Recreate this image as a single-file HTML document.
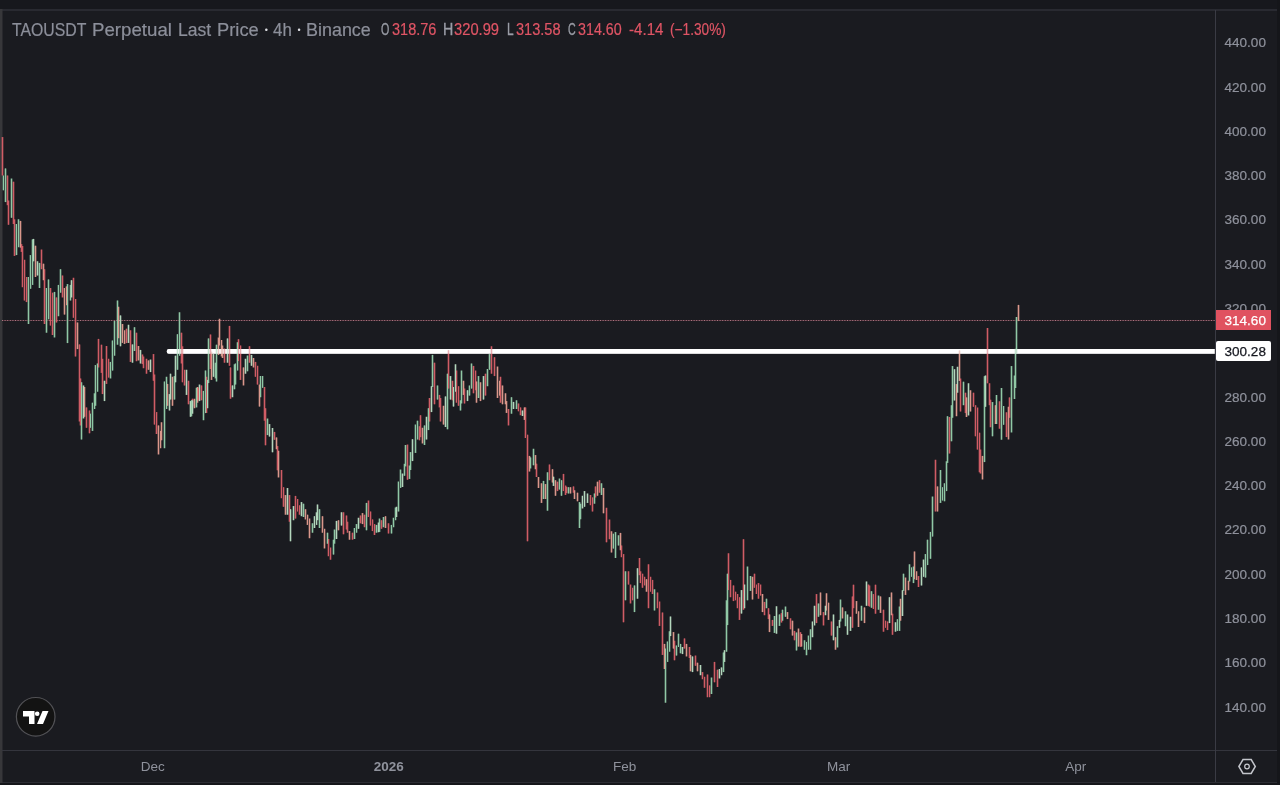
<!DOCTYPE html>
<html><head><meta charset="utf-8">
<style>
html,body{margin:0;padding:0;background:#1a1b20;}
body{width:1280px;height:785px;position:relative;overflow:hidden;font-family:"Liberation Sans",sans-serif;}
#frame{position:absolute;left:0;top:0;width:1280px;height:785px;}
.lbl{position:absolute;color:#8f929c;font-size:13.5px;line-height:16px;white-space:nowrap;}
.pl{left:1224.6px;margin-top:0.9px;-webkit-text-stroke:0.2px}
.box{left:1216px;margin-top:0;-webkit-text-stroke:0.25px;width:55px;height:20px;line-height:21px;box-sizing:border-box;padding-left:8.6px;z-index:2}
.tl{top:759.2px;margin-left:0.7px;transform:translateX(-50%);}
#hdr,#ohlc{position:absolute;left:0;top:0;white-space:nowrap;}
.hw,.hd{-webkit-text-stroke:0.2px #8c8f9a;position:absolute;top:19.9px;margin-left:-0.8px;font-size:17.5px;line-height:20px;color:#8c8f9a;transform-origin:0 0;white-space:nowrap;}
.hd{-webkit-text-stroke:0;margin-left:0;color:#dcdde2;transform:none;font-size:9px;top:20.4px;}
.ow{position:absolute;top:21.0px;font-size:15.6px;line-height:18px;transform-origin:0 0;white-space:nowrap;}
.ow.g{color:#9a9da6;-webkit-text-stroke:0.35px #9a9da6}.ow.r{color:#e05565;-webkit-text-stroke:0.2px #e05565}
</style></head><body>
<svg id="frame" width="1280" height="785" viewBox="0 0 1280 785">
<rect x="0" y="0" width="1280" height="785" fill="#1a1b20"/>
<rect x="0" y="0" width="1280" height="9" fill="#17181d"/>
<rect x="1277" y="0" width="3" height="785" fill="#15161a"/>
<rect x="0" y="783" width="1280" height="2" fill="#15161a"/>
<rect x="0" y="9" width="1277" height="2" fill="#292a31"/>
<rect x="0" y="782" width="1277" height="1" fill="#2b2c33"/>
<rect x="0" y="9" width="2.5" height="774" fill="#37373a"/>
<rect x="2" y="750" width="1275" height="1" fill="#34353d"/>
<rect x="1215" y="10" width="1" height="772" fill="#3a3b44"/>
<!-- price line -->
<line x1="2" y1="320.5" x2="1215" y2="320.5" stroke="#5a2f3c" stroke-width="1" opacity="0.8"/>
<line x1="2" y1="320.5" x2="1215" y2="320.5" stroke="#cf9aa3" stroke-width="1" stroke-dasharray="1 1.6" opacity="0.7"/>
<!-- white level -->
<rect x="166.8" y="348.9" width="1051" height="4.85" rx="2" fill="#ffffff"/>
<g id="candles"><path d="M2.5 137.1V175.5M7.5 175.5V205.2M8.5 200.5V224.8M13.5 181.7V224.0M14.5 219.3V255.9M21.5 244.1V251.9M22.5 246.0V287.2M24.5 259.8V300.5M26.5 277.0V302.1M41.5 249.6V269.2M44.5 269.2V324.0M50.5 288.0V325.6M52.5 292.7V335.0M56.5 297.4V322.5M62.5 275.5V297.4M73.5 277.8V317.8M75.5 299.0V356.5M79.5 344.4V421.5M80.5 378.4V425.4M86.5 407.4V427.8M89.5 410.5V433.3M98.5 338.9V367.4M101.5 344.7V372.9M102.5 358.8V394.1M106.5 346.0V383.9M108.5 358.8V377.6M126.5 328.7V343.1M130.5 330.3V361.9M136.5 332.7V361.2M142.5 354.5V364.1M143.5 356.5V368.2M146.5 358.8V373.7M153.5 354.1V380.8M154.5 374.5V424.6M156.5 412.1V434.0M181.5 332.7V363.5M182.5 346.3V382.3M184.5 369.8V385.5M188.5 380.8V404.3M192.5 398.7V406.6M198.5 387.8V400.3M201.5 385.4V400.3M206.5 376.8V412.9M210.5 334.5V369.0M224.5 348.6V362.7M229.5 325.9V365.8M230.5 367.4V398.7M238.5 339.2V361.1M240.5 345.5V379.9M249.5 346.2V362.7M255.5 361.9V376.8M257.5 365.8V384.6M264.5 387.0V420.7M265.5 408.2V445.3M274.5 431.9V439.8M277.5 446.1V470.3M281.5 470.0V498.2M283.5 487.2V506.8M289.5 495.1V521.7M295.5 495.9V518.6M297.5 499.0V511.5M299.5 505.3V514.7M328.5 539.0V556.2M330.5 547.6V559.7M343.5 512.3V534.3M346.5 515.5V529.6M347.5 521.7V532.7M352.5 532.7V539.7M360.5 515.5V523.3M364.5 514.7V527.2M368.5 500.6V517.0M370.5 511.5V525.6M372.5 519.4V531.1M374.5 524.1V535.0M381.5 520.2V528.8M388.5 523.3V533.5M407.5 444.6V479.8M419.5 426.2V440.3M420.5 415.2V437.2M429.5 398.0V421.5M434.5 362.7V404.3M439.5 394.9V407.4M440.5 398.0V421.5M448.5 350.2V388.6M452.5 380.8V400.3M456.5 370.6V402.7M458.5 386.2V405.8M464.5 388.6V403.5M473.5 365.9V393.3M475.5 370.6V390.2M485.5 373.7V395.6M491.5 346.3V373.7M494.5 357.2V376.1M500.5 376.8V402.7M508.5 409.0V425.4M518.5 403.5V411.3M520.5 407.4V415.2M525.5 407.4V438.0M527.5 434.7V541.3M536.5 463.7V477.0M549.5 464.5V480.2M557.5 481.7V491.1M563.5 473.9V491.1M565.5 485.6V495.0M566.5 486.7V493.2M573.5 486.4V492.7M590.5 495.0V505.2M592.5 497.4V511.5M595.5 486.4V497.4M599.5 480.2V492.7M606.5 507.8V542.3M609.5 519.6V539.2M621.5 545.5V557.2M623.5 554.1V622.3M628.5 571.3V584.6M630.5 584.6V603.4M632.5 587.8V600.3M639.5 558.0V575.2M640.5 571.3V583.1M642.5 573.7V587.8M644.5 576.8V585.4M648.5 564.3V608.2M650.5 576.8V591.7M652.5 579.9V594.0M657.5 592.5V608.2M659.5 601.6V625.9M662.5 612.5V654.9M674.5 640.8V660.3M684.5 638.4V648.6M689.5 647.0V658.0M695.5 655.6V665.8M702.5 672.1V679.2M704.5 676.8V687.8M707.5 674.5V697.2M709.5 685.4V697.2M714.5 661.9V682.3M717.5 669.7V687.0M728.5 553.3V590.1M730.5 579.9V597.2M733.5 585.4V601.1M735.5 591.7V600.3M737.5 594.0V608.2M739.5 597.2V619.9M743.5 539.2V609.7M754.5 573.7V587.8M756.5 584.6V594.0M758.5 583.1V598.7M760.5 584.6V595.6M764.5 601.9V615.2M768.5 608.2V619.1M772.5 619.9V625.9M781.5 613.1V622.5M790.5 618.3V629.3M794.5 630.9V640.3M800.5 632.2V646.8M816.5 594.1V623.1M823.5 612.1V625.4M831.5 621.5V635.6M852.5 596.4V627.8M853.5 584.7V608.2M868.5 584.6V605.9M869.5 585.5V606.6M873.5 594.1V609.0M875.5 584.7V613.7M883.5 609.7V631.7M885.5 620.7V627.8M887.5 621.5V630.1M892.5 613.7V634.8M918.5 576.1V587.0M935.5 459.8V511.5M949.5 417.0V453.5M960.5 378.6V411.5M965.5 392.7V413.1M973.5 392.7V406.8M975.5 405.2V436.3M977.5 407.6V449.6M979.5 432.7V472.3M980.5 449.5V473.5M987.5 328.0V383.3M989.5 383.3V405.2M990.5 399.7V427.2M999.5 401.3V428.7M1006.5 412.3V437.1M1009.5 397.4V417.8" stroke="#d05c65" stroke-width="3" opacity="0.3" fill="none"/>
<path d="M20.5 220.9V247.6M35.5 245.7V277.0M43.5 263.7V280.2M64.5 288.0V314.6M66.5 286.4V305.2M77.5 322.5V349.1M84.5 387.0V416.8M118.5 306.8V338.2M122.5 324.0V342.9M124.5 330.3V343.9M138.5 346.0V360.4M148.5 360.4V369.8M158.5 425.4V454.4M160.5 430.9V448.2M161.5 422.3V440.3M167.5 383.9V405.8M172.5 376.8V405.8M194.5 398.8V407.4M194.5 400.3V408.2M197.5 387.0V402.7M211.5 351.7V379.9M218.5 337.6V354.9M219.5 318.8V345.5M221.5 340.0V356.4M222.5 345.5V358.0M243.5 367.4V385.4M253.5 358.0V367.4M259.5 384.6V406.6M276.5 437.4V449.2M278.5 450.8V477.4M285.5 495.1V514.7M305.5 509.2V519.4M307.5 514.7V524.9M309.5 518.6V538.2M322.5 516.2V532.7M324.5 528.8V548.4M338.5 520.2V530.3M349.5 531.1V539.7M362.5 513.1V524.1M385.5 516.2V528.0M422.5 427.8V443.4M443.5 405.8V424.6M463.5 380.8V394.9M476.5 381.5V402.7M480.5 382.3V401.1M497.5 366.6V398.0M499.5 380.8V395.6M502.5 385.5V404.3M505.5 393.3V404.3M506.5 401.1V412.9M524.5 407.4V419.9M529.5 455.9V471.5M535.5 455.1V469.2M538.5 477.0V488.0M541.5 483.3V502.9M545.5 484.1V499.0M552.5 469.2V482.5M555.5 480.2V495.8M570.5 487.2V493.5M574.5 490.3V499.0M577.5 492.7V501.3M597.5 481.7V495.8M603.5 487.9V513.3M611.5 531.3V552.5M620.5 532.9V550.2M646.5 579.2V591.7M664.5 643.9V669.0M673.5 632.1V648.6M686.5 643.9V656.4M690.5 654.9V671.3M697.5 662.7V671.3M752.5 576.8V599.5M762.5 594.0V612.1M769.5 614.4V632.1M787.5 612.1V619.1M792.5 620.7V635.6M798.5 628.6V646.6M801.5 634.0V646.6M820.5 592.5V615.2M826.5 593.3V610.5M828.5 602.7V619.9M835.5 637.2V649.7M842.5 607.4V618.4M856.5 601.1V613.7M858.5 611.3V627.0M864.5 607.4V623.1M880.5 596.4V612.9M891.5 592.5V615.2M900.5 598.8V620.7M905.5 577.6V594.9M908.5 580.8V590.2M914.5 551.5V579.2M916.5 571.3V580.0M937.5 486.4V511.5M956.5 384.1V416.2M959.5 350.4V380.9M966.5 397.4V417.0M970.5 390.3V411.5M982.5 455.9V479.4M995.5 405.2V424.0M1008.5 406.8V439.4M1018.5 304.9V321.1" stroke="#da978b" stroke-width="3" opacity="0.3" fill="none"/>
<path d="M3.5 175.5V190.3M5.5 168.4V202.1M11.5 178.6V217.8M16.5 224.0V255.1M18.5 219.3V247.2M28.5 277.0V324.0M30.5 255.1V288.8M32.5 239.4V284.9M39.5 262.9V288.0M46.5 288.0V332.7M48.5 279.4V319.3M54.5 291.9V337.4M58.5 284.9V316.2M60.5 269.2V292.7M67.5 284.1V343.1M70.5 284.9V300.5M81.5 382.3V439.5M90.5 413.7V427.8M92.5 402.7V430.9M94.5 393.3V409.0M95.5 365.1V405.8M97.5 363.5V391.7M110.5 361.9V378.4M112.5 340.5V370.6M114.5 320.9V355.7M117.5 300.5V344.7M134.5 327.2V351.0M164.5 431.7V448.2M164.5 381.5V440.3M166.5 376.8V409.0M174.5 376.1V399.6M177.5 334.2V369.8M179.5 312.3V355.7M191.5 400.3V416.3M196.5 396.4V407.4M196.5 387.8V403.4M203.5 390.9V420.2M205.5 370.5V413.1M208.5 338.4V383.1M215.5 362.7V378.4M216.5 344.7V381.5M234.5 364.3V389.3M235.5 363.5V384.6M237.5 342.3V370.5M247.5 355.6V371.3M260.5 376.0V397.2M262.5 376.0V387.8M267.5 418.6V435.1M303.5 503.7V517.0M312.5 523.3V532.7M319.5 509.2V528.0M327.5 532.7V543.7M333.5 539.7V554.6M334.5 529.6V543.7M354.5 528.0V539.0M356.5 524.1V532.7M366.5 502.9V530.3M376.5 524.9V532.7M379.5 518.6V531.9M383.5 517.0V527.2M391.5 524.9V533.5M393.5 517.8V527.2M395.5 507.6V520.2M398.5 481.6V511.5M400.5 469.6V487.9M404.5 463.8V475.8M405.5 445.0V466.4M409.5 465.5V478.9M410.5 452.1V470.0M415.5 424.6V452.9M417.5 420.7V439.5M424.5 425.4V445.0M428.5 408.2V430.1M432.5 354.9V387.0M437.5 385.5V399.6M447.5 373.7V429.3M460.5 400.3V410.5M461.5 370.6V403.5M469.5 385.5V395.6M471.5 363.5V388.6M478.5 376.1V398.0M487.5 369.0V386.2M489.5 354.1V369.8M511.5 397.2V413.7M516.5 400.3V409.0M530.5 457.4V468.4M533.5 448.8V465.3M543.5 480.9V499.0M547.5 472.3V510.7M559.5 478.6V489.6M561.5 480.2V495.8M568.5 487.2V493.5M579.5 502.1V528.0M580.5 503.7V519.3M594.5 493.5V503.7M601.5 483.3V495.0M613.5 533.7V548.6M615.5 532.1V558.0M618.5 535.3V545.5M625.5 571.3V600.3M634.5 585.4V612.1M654.5 589.3V610.5M665.5 648.6V702.7M667.5 641.5V661.9M669.5 631.3V651.7M676.5 645.5V655.6M678.5 633.7V647.0M680.5 643.9V653.3M711.5 677.6V694.0M723.5 652.5V672.1M726.5 600.3V651.7M727.5 573.7V625.1M747.5 566.6V600.3M750.5 576.0V590.9M766.5 598.7V608.2M774.5 616.0V632.9M779.5 614.4V625.9M782.5 609.7V620.7M785.5 606.6V616.8M796.5 632.5V650.5M804.5 640.3V649.7M806.5 641.9V655.2M808.5 635.6V649.7M810.5 629.3V649.7M818.5 603.5V616.8M837.5 626.2V647.4M840.5 599.6V621.5M845.5 611.3V626.2M861.5 605.8V620.7M871.5 591.2V607.8M878.5 595.6V609.7M897.5 619.2V630.9M899.5 606.6V630.9M903.5 573.7V590.9M909.5 564.3V581.5M911.5 567.4V576.8M913.5 566.6V583.1M925.5 554.1V577.6M927.5 539.7V565.1M930.5 531.9V558.8M932.5 496.6V536.6M940.5 470.0V502.9M942.5 487.2V500.5M944.5 483.3V501.3M946.5 461.3V491.1M947.5 416.2V462.9M951.5 405.2V441.3M952.5 366.1V417.8M963.5 381.7V405.2M984.5 376.2V462.1M992.5 402.1V436.3M996.5 395.0V424.0M1001.5 388.0V439.7M1003.5 406.0V424.8M1011.5 366.1V432.4M1014.5 375.5V399.0M1015.5 348.8V388.0M1016.5 317.0V353.5" stroke="#90c8a5" stroke-width="3" opacity="0.3" fill="none"/>
<path d="M33.5 238.9V261.3M37.5 261.3V275.5M71.5 280.2V297.4M83.5 385.5V418.4M104.5 380.8V401.1M120.5 315.4V346.3M128.5 324.8V342.9M132.5 344.4V362.7M140.5 349.9V363.5M150.5 359.6V372.1M169.5 394.1V410.5M170.5 373.7V399.6M175.5 355.7V382.3M186.5 369.8V394.9M190.5 401.1V416.8M192.5 400.3V413.7M199.5 385.5V401.1M199.5 384.6V397.2M207.5 379.9V408.2M213.5 354.1V376.8M227.5 338.4V362.7M232.5 385.4V397.2M245.5 358.8V373.7M251.5 354.9V365.8M269.5 424.1V436.6M272.5 428.0V452.3M287.5 488.0V514.7M290.5 509.2V541.3M293.5 506.1V520.2M301.5 502.1V516.2M314.5 516.2V528.0M316.5 512.3V524.9M317.5 504.5V520.2M336.5 520.9V539.0M341.5 512.3V525.6M358.5 517.8V528.8M378.5 522.6V532.2M396.5 506.8V517.0M402.5 473.6V487.0M412.5 439.2V461.1M426.5 416.8V439.5M431.5 386.2V412.1M445.5 396.4V427.0M450.5 376.1V399.6M453.5 387.0V406.6M455.5 364.3V391.7M467.5 390.2V401.1M483.5 376.1V399.6M513.5 401.9V409.0M522.5 410.5V416.0M553.5 476.7V485.9M582.5 495.8V508.4M584.5 491.1V506.8M587.5 493.5V502.9M637.5 568.2V598.7M670.5 616.5V636.1M682.5 647.0V654.1M692.5 656.4V672.1M700.5 665.0V675.2M719.5 669.0V678.4M721.5 667.4V675.2M724.5 650.2V661.9M741.5 590.1V613.6M744.5 584.6V608.2M776.5 606.3V633.7M812.5 621.5V637.2M814.5 605.8V625.4M825.5 605.8V615.2M833.5 614.5V640.3M839.5 619.9V627.8M847.5 614.5V634.8M850.5 616.8V630.9M866.5 581.5V605.8M889.5 597.2V623.1M895.5 622.3V631.7M902.5 590.2V616.0M921.5 567.4V585.5M923.5 559.6V576.8M954.5 369.2V400.5M957.5 366.8V392.7M968.5 383.3V415.4M985.5 375.5V406.8" stroke="#b4d7bd" stroke-width="3" opacity="0.3" fill="none"/>
<path d="M2.5 137.1V175.5M7.5 175.5V205.2M8.5 200.5V224.8M13.5 181.7V224.0M14.5 219.3V255.9M21.5 244.1V251.9M22.5 246.0V287.2M24.5 259.8V300.5M26.5 277.0V302.1M41.5 249.6V269.2M44.5 269.2V324.0M50.5 288.0V325.6M52.5 292.7V335.0M56.5 297.4V322.5M62.5 275.5V297.4M73.5 277.8V317.8M75.5 299.0V356.5M79.5 344.4V421.5M80.5 378.4V425.4M86.5 407.4V427.8M89.5 410.5V433.3M98.5 338.9V367.4M101.5 344.7V372.9M102.5 358.8V394.1M106.5 346.0V383.9M108.5 358.8V377.6M126.5 328.7V343.1M130.5 330.3V361.9M136.5 332.7V361.2M142.5 354.5V364.1M143.5 356.5V368.2M146.5 358.8V373.7M153.5 354.1V380.8M154.5 374.5V424.6M156.5 412.1V434.0M181.5 332.7V363.5M182.5 346.3V382.3M184.5 369.8V385.5M188.5 380.8V404.3M192.5 398.7V406.6M198.5 387.8V400.3M201.5 385.4V400.3M206.5 376.8V412.9M210.5 334.5V369.0M224.5 348.6V362.7M229.5 325.9V365.8M230.5 367.4V398.7M238.5 339.2V361.1M240.5 345.5V379.9M249.5 346.2V362.7M255.5 361.9V376.8M257.5 365.8V384.6M264.5 387.0V420.7M265.5 408.2V445.3M274.5 431.9V439.8M277.5 446.1V470.3M281.5 470.0V498.2M283.5 487.2V506.8M289.5 495.1V521.7M295.5 495.9V518.6M297.5 499.0V511.5M299.5 505.3V514.7M328.5 539.0V556.2M330.5 547.6V559.7M343.5 512.3V534.3M346.5 515.5V529.6M347.5 521.7V532.7M352.5 532.7V539.7M360.5 515.5V523.3M364.5 514.7V527.2M368.5 500.6V517.0M370.5 511.5V525.6M372.5 519.4V531.1M374.5 524.1V535.0M381.5 520.2V528.8M388.5 523.3V533.5M407.5 444.6V479.8M419.5 426.2V440.3M420.5 415.2V437.2M429.5 398.0V421.5M434.5 362.7V404.3M439.5 394.9V407.4M440.5 398.0V421.5M448.5 350.2V388.6M452.5 380.8V400.3M456.5 370.6V402.7M458.5 386.2V405.8M464.5 388.6V403.5M473.5 365.9V393.3M475.5 370.6V390.2M485.5 373.7V395.6M491.5 346.3V373.7M494.5 357.2V376.1M500.5 376.8V402.7M508.5 409.0V425.4M518.5 403.5V411.3M520.5 407.4V415.2M525.5 407.4V438.0M527.5 434.7V541.3M536.5 463.7V477.0M549.5 464.5V480.2M557.5 481.7V491.1M563.5 473.9V491.1M565.5 485.6V495.0M566.5 486.7V493.2M573.5 486.4V492.7M590.5 495.0V505.2M592.5 497.4V511.5M595.5 486.4V497.4M599.5 480.2V492.7M606.5 507.8V542.3M609.5 519.6V539.2M621.5 545.5V557.2M623.5 554.1V622.3M628.5 571.3V584.6M630.5 584.6V603.4M632.5 587.8V600.3M639.5 558.0V575.2M640.5 571.3V583.1M642.5 573.7V587.8M644.5 576.8V585.4M648.5 564.3V608.2M650.5 576.8V591.7M652.5 579.9V594.0M657.5 592.5V608.2M659.5 601.6V625.9M662.5 612.5V654.9M674.5 640.8V660.3M684.5 638.4V648.6M689.5 647.0V658.0M695.5 655.6V665.8M702.5 672.1V679.2M704.5 676.8V687.8M707.5 674.5V697.2M709.5 685.4V697.2M714.5 661.9V682.3M717.5 669.7V687.0M728.5 553.3V590.1M730.5 579.9V597.2M733.5 585.4V601.1M735.5 591.7V600.3M737.5 594.0V608.2M739.5 597.2V619.9M743.5 539.2V609.7M754.5 573.7V587.8M756.5 584.6V594.0M758.5 583.1V598.7M760.5 584.6V595.6M764.5 601.9V615.2M768.5 608.2V619.1M772.5 619.9V625.9M781.5 613.1V622.5M790.5 618.3V629.3M794.5 630.9V640.3M800.5 632.2V646.8M816.5 594.1V623.1M823.5 612.1V625.4M831.5 621.5V635.6M852.5 596.4V627.8M853.5 584.7V608.2M868.5 584.6V605.9M869.5 585.5V606.6M873.5 594.1V609.0M875.5 584.7V613.7M883.5 609.7V631.7M885.5 620.7V627.8M887.5 621.5V630.1M892.5 613.7V634.8M918.5 576.1V587.0M935.5 459.8V511.5M949.5 417.0V453.5M960.5 378.6V411.5M965.5 392.7V413.1M973.5 392.7V406.8M975.5 405.2V436.3M977.5 407.6V449.6M979.5 432.7V472.3M980.5 449.5V473.5M987.5 328.0V383.3M989.5 383.3V405.2M990.5 399.7V427.2M999.5 401.3V428.7M1006.5 412.3V437.1M1009.5 397.4V417.8" stroke="#d05c65" stroke-width="1" fill="none"/>
<path d="M20.5 220.9V247.6M35.5 245.7V277.0M43.5 263.7V280.2M64.5 288.0V314.6M66.5 286.4V305.2M77.5 322.5V349.1M84.5 387.0V416.8M118.5 306.8V338.2M122.5 324.0V342.9M124.5 330.3V343.9M138.5 346.0V360.4M148.5 360.4V369.8M158.5 425.4V454.4M160.5 430.9V448.2M161.5 422.3V440.3M167.5 383.9V405.8M172.5 376.8V405.8M194.5 398.8V407.4M194.5 400.3V408.2M197.5 387.0V402.7M211.5 351.7V379.9M218.5 337.6V354.9M219.5 318.8V345.5M221.5 340.0V356.4M222.5 345.5V358.0M243.5 367.4V385.4M253.5 358.0V367.4M259.5 384.6V406.6M276.5 437.4V449.2M278.5 450.8V477.4M285.5 495.1V514.7M305.5 509.2V519.4M307.5 514.7V524.9M309.5 518.6V538.2M322.5 516.2V532.7M324.5 528.8V548.4M338.5 520.2V530.3M349.5 531.1V539.7M362.5 513.1V524.1M385.5 516.2V528.0M422.5 427.8V443.4M443.5 405.8V424.6M463.5 380.8V394.9M476.5 381.5V402.7M480.5 382.3V401.1M497.5 366.6V398.0M499.5 380.8V395.6M502.5 385.5V404.3M505.5 393.3V404.3M506.5 401.1V412.9M524.5 407.4V419.9M529.5 455.9V471.5M535.5 455.1V469.2M538.5 477.0V488.0M541.5 483.3V502.9M545.5 484.1V499.0M552.5 469.2V482.5M555.5 480.2V495.8M570.5 487.2V493.5M574.5 490.3V499.0M577.5 492.7V501.3M597.5 481.7V495.8M603.5 487.9V513.3M611.5 531.3V552.5M620.5 532.9V550.2M646.5 579.2V591.7M664.5 643.9V669.0M673.5 632.1V648.6M686.5 643.9V656.4M690.5 654.9V671.3M697.5 662.7V671.3M752.5 576.8V599.5M762.5 594.0V612.1M769.5 614.4V632.1M787.5 612.1V619.1M792.5 620.7V635.6M798.5 628.6V646.6M801.5 634.0V646.6M820.5 592.5V615.2M826.5 593.3V610.5M828.5 602.7V619.9M835.5 637.2V649.7M842.5 607.4V618.4M856.5 601.1V613.7M858.5 611.3V627.0M864.5 607.4V623.1M880.5 596.4V612.9M891.5 592.5V615.2M900.5 598.8V620.7M905.5 577.6V594.9M908.5 580.8V590.2M914.5 551.5V579.2M916.5 571.3V580.0M937.5 486.4V511.5M956.5 384.1V416.2M959.5 350.4V380.9M966.5 397.4V417.0M970.5 390.3V411.5M982.5 455.9V479.4M995.5 405.2V424.0M1008.5 406.8V439.4M1018.5 304.9V321.1" stroke="#da978b" stroke-width="1" fill="none"/>
<path d="M3.5 175.5V190.3M5.5 168.4V202.1M11.5 178.6V217.8M16.5 224.0V255.1M18.5 219.3V247.2M28.5 277.0V324.0M30.5 255.1V288.8M32.5 239.4V284.9M39.5 262.9V288.0M46.5 288.0V332.7M48.5 279.4V319.3M54.5 291.9V337.4M58.5 284.9V316.2M60.5 269.2V292.7M67.5 284.1V343.1M70.5 284.9V300.5M81.5 382.3V439.5M90.5 413.7V427.8M92.5 402.7V430.9M94.5 393.3V409.0M95.5 365.1V405.8M97.5 363.5V391.7M110.5 361.9V378.4M112.5 340.5V370.6M114.5 320.9V355.7M117.5 300.5V344.7M134.5 327.2V351.0M164.5 431.7V448.2M164.5 381.5V440.3M166.5 376.8V409.0M174.5 376.1V399.6M177.5 334.2V369.8M179.5 312.3V355.7M191.5 400.3V416.3M196.5 396.4V407.4M196.5 387.8V403.4M203.5 390.9V420.2M205.5 370.5V413.1M208.5 338.4V383.1M215.5 362.7V378.4M216.5 344.7V381.5M234.5 364.3V389.3M235.5 363.5V384.6M237.5 342.3V370.5M247.5 355.6V371.3M260.5 376.0V397.2M262.5 376.0V387.8M267.5 418.6V435.1M303.5 503.7V517.0M312.5 523.3V532.7M319.5 509.2V528.0M327.5 532.7V543.7M333.5 539.7V554.6M334.5 529.6V543.7M354.5 528.0V539.0M356.5 524.1V532.7M366.5 502.9V530.3M376.5 524.9V532.7M379.5 518.6V531.9M383.5 517.0V527.2M391.5 524.9V533.5M393.5 517.8V527.2M395.5 507.6V520.2M398.5 481.6V511.5M400.5 469.6V487.9M404.5 463.8V475.8M405.5 445.0V466.4M409.5 465.5V478.9M410.5 452.1V470.0M415.5 424.6V452.9M417.5 420.7V439.5M424.5 425.4V445.0M428.5 408.2V430.1M432.5 354.9V387.0M437.5 385.5V399.6M447.5 373.7V429.3M460.5 400.3V410.5M461.5 370.6V403.5M469.5 385.5V395.6M471.5 363.5V388.6M478.5 376.1V398.0M487.5 369.0V386.2M489.5 354.1V369.8M511.5 397.2V413.7M516.5 400.3V409.0M530.5 457.4V468.4M533.5 448.8V465.3M543.5 480.9V499.0M547.5 472.3V510.7M559.5 478.6V489.6M561.5 480.2V495.8M568.5 487.2V493.5M579.5 502.1V528.0M580.5 503.7V519.3M594.5 493.5V503.7M601.5 483.3V495.0M613.5 533.7V548.6M615.5 532.1V558.0M618.5 535.3V545.5M625.5 571.3V600.3M634.5 585.4V612.1M654.5 589.3V610.5M665.5 648.6V702.7M667.5 641.5V661.9M669.5 631.3V651.7M676.5 645.5V655.6M678.5 633.7V647.0M680.5 643.9V653.3M711.5 677.6V694.0M723.5 652.5V672.1M726.5 600.3V651.7M727.5 573.7V625.1M747.5 566.6V600.3M750.5 576.0V590.9M766.5 598.7V608.2M774.5 616.0V632.9M779.5 614.4V625.9M782.5 609.7V620.7M785.5 606.6V616.8M796.5 632.5V650.5M804.5 640.3V649.7M806.5 641.9V655.2M808.5 635.6V649.7M810.5 629.3V649.7M818.5 603.5V616.8M837.5 626.2V647.4M840.5 599.6V621.5M845.5 611.3V626.2M861.5 605.8V620.7M871.5 591.2V607.8M878.5 595.6V609.7M897.5 619.2V630.9M899.5 606.6V630.9M903.5 573.7V590.9M909.5 564.3V581.5M911.5 567.4V576.8M913.5 566.6V583.1M925.5 554.1V577.6M927.5 539.7V565.1M930.5 531.9V558.8M932.5 496.6V536.6M940.5 470.0V502.9M942.5 487.2V500.5M944.5 483.3V501.3M946.5 461.3V491.1M947.5 416.2V462.9M951.5 405.2V441.3M952.5 366.1V417.8M963.5 381.7V405.2M984.5 376.2V462.1M992.5 402.1V436.3M996.5 395.0V424.0M1001.5 388.0V439.7M1003.5 406.0V424.8M1011.5 366.1V432.4M1014.5 375.5V399.0M1015.5 348.8V388.0M1016.5 317.0V353.5" stroke="#90c8a5" stroke-width="1" fill="none"/>
<path d="M33.5 238.9V261.3M37.5 261.3V275.5M71.5 280.2V297.4M83.5 385.5V418.4M104.5 380.8V401.1M120.5 315.4V346.3M128.5 324.8V342.9M132.5 344.4V362.7M140.5 349.9V363.5M150.5 359.6V372.1M169.5 394.1V410.5M170.5 373.7V399.6M175.5 355.7V382.3M186.5 369.8V394.9M190.5 401.1V416.8M192.5 400.3V413.7M199.5 385.5V401.1M199.5 384.6V397.2M207.5 379.9V408.2M213.5 354.1V376.8M227.5 338.4V362.7M232.5 385.4V397.2M245.5 358.8V373.7M251.5 354.9V365.8M269.5 424.1V436.6M272.5 428.0V452.3M287.5 488.0V514.7M290.5 509.2V541.3M293.5 506.1V520.2M301.5 502.1V516.2M314.5 516.2V528.0M316.5 512.3V524.9M317.5 504.5V520.2M336.5 520.9V539.0M341.5 512.3V525.6M358.5 517.8V528.8M378.5 522.6V532.2M396.5 506.8V517.0M402.5 473.6V487.0M412.5 439.2V461.1M426.5 416.8V439.5M431.5 386.2V412.1M445.5 396.4V427.0M450.5 376.1V399.6M453.5 387.0V406.6M455.5 364.3V391.7M467.5 390.2V401.1M483.5 376.1V399.6M513.5 401.9V409.0M522.5 410.5V416.0M553.5 476.7V485.9M582.5 495.8V508.4M584.5 491.1V506.8M587.5 493.5V502.9M637.5 568.2V598.7M670.5 616.5V636.1M682.5 647.0V654.1M692.5 656.4V672.1M700.5 665.0V675.2M719.5 669.0V678.4M721.5 667.4V675.2M724.5 650.2V661.9M741.5 590.1V613.6M744.5 584.6V608.2M776.5 606.3V633.7M812.5 621.5V637.2M814.5 605.8V625.4M825.5 605.8V615.2M833.5 614.5V640.3M839.5 619.9V627.8M847.5 614.5V634.8M850.5 616.8V630.9M866.5 581.5V605.8M889.5 597.2V623.1M895.5 622.3V631.7M902.5 590.2V616.0M921.5 567.4V585.5M923.5 559.6V576.8M954.5 369.2V400.5M957.5 366.8V392.7M968.5 383.3V415.4M985.5 375.5V406.8" stroke="#b4d7bd" stroke-width="1" fill="none"/></g>
<rect x="166.8" y="348.9" width="1051" height="4.85" rx="2" fill="#ffffff" opacity="0.5"/>
<rect x="1214.8" y="340" width="3" height="22" fill="#1a1b20"/>
<rect x="1215" y="10" width="1" height="772" fill="#3a3b44"/>
<!-- logo -->
<circle cx="35.7" cy="716.8" r="19.3" fill="#131313" stroke="#525256" stroke-width="1.2"/>
<path d="M23 711 h11.5 v13 h-5.5 v-7.5 h-6 z M37.2 713.8 m-2.3 0 a2.3 2.3 0 1 0 4.6 0 a2.3 2.3 0 1 0 -4.6 0 z M42.5 711 h6 l-5.5 13 h-6 z" fill="#ffffff"/>
<!-- settings -->
<path d="M1238.9 766.5 l4.1 -7 h8.2 l4.1 7 l-4.1 7 h-8.2 z" fill="none" stroke="#c3c5cb" stroke-width="1.5"/>
<circle cx="1247" cy="766.5" r="2.3" fill="none" stroke="#c9cbd1" stroke-width="1.2"/>
</svg>
<div id="hdr">
<span class="hw" style="left:12.60px;transform:scaleX(0.9029)">TAOUSDT</span>
<span class="hw" style="left:92.73px;transform:scaleX(1.0668)">Perpetual</span>
<span class="hw" style="left:178.30px;transform:scaleX(1.0026)">Last</span>
<span class="hw" style="left:217.35px;transform:scaleX(1.0462)">Price</span>
<span class="hw" style="left:273.40px;transform:scaleX(0.9662)">4h</span>
<span class="hw" style="left:306.48px;transform:scaleX(1.0243)">Binance</span>
<span class="hd" style="left:264.7px">•</span>
<span class="hd" style="left:297.4px">•</span>
</div>
<div id="ohlc">
<span class="ow g" style="left:381.20px;transform:scaleX(0.6833)">O</span>
<span class="ow r" style="left:392.20px;transform:scaleX(0.9315)">318.76</span>
<span class="ow g" style="left:443.19px;transform:scaleX(0.9111)">H</span>
<span class="ow r" style="left:454.40px;transform:scaleX(0.9442)">320.99</span>
<span class="ow g" style="left:506.54px;transform:scaleX(0.7625)">L</span>
<span class="ow r" style="left:515.90px;transform:scaleX(0.9336)">313.58</span>
<span class="ow g" style="left:567.80px;transform:scaleX(0.6818)">C</span>
<span class="ow r" style="left:577.70px;transform:scaleX(0.9162)">314.60</span>
<span class="ow r" style="left:629.30px;transform:scaleX(0.9702)">-4.14</span>
<span class="ow r" style="left:669.80px;transform:scaleX(0.8770)">(−1.30%)</span>
</div>
<div class="lbl pl" style="top:34.5px">440.00</div>
<div class="lbl pl" style="top:78.8px">420.00</div>
<div class="lbl pl" style="top:123.0px">400.00</div>
<div class="lbl pl" style="top:167.3px">380.00</div>
<div class="lbl pl" style="top:211.6px">360.00</div>
<div class="lbl pl" style="top:255.9px">340.00</div>
<div class="lbl pl" style="top:300.2px">320.00</div>
<div class="lbl pl" style="top:388.8px">280.00</div>
<div class="lbl pl" style="top:433.0px">260.00</div>
<div class="lbl pl" style="top:477.3px">240.00</div>
<div class="lbl pl" style="top:521.6px">220.00</div>
<div class="lbl pl" style="top:565.9px">200.00</div>
<div class="lbl pl" style="top:610.2px">180.00</div>
<div class="lbl pl" style="top:654.5px">160.00</div>
<div class="lbl pl" style="top:698.8px">140.00</div>
<div class="lbl pl box" style="top:310px;color:#fff;background:#e05260;">314.60</div>
<div class="lbl pl box" style="top:341.2px;color:#15171f;background:#fff;border-radius:2px">300.28</div>
<div class="lbl tl" style="left:152px">Dec</div>
<div class="lbl tl" style="left:388px;font-weight:bold">2026</div>
<div class="lbl tl" style="left:624px">Feb</div>
<div class="lbl tl" style="left:838px">Mar</div>
<div class="lbl tl" style="left:1075px">Apr</div>
</body></html>
